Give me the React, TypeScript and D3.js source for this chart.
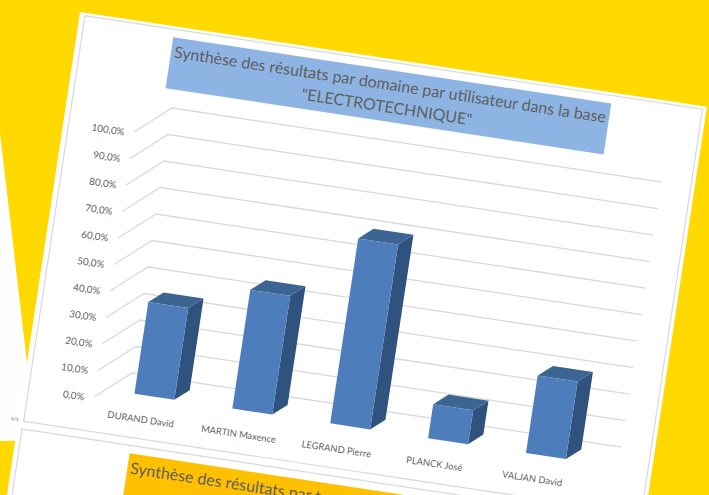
import React from "react";
import * as d3 from "d3";

const users = ["DURAND David", "MARTIN Maxence", "LEGRAND Pierre", "PLANCK José", "VALJAN David"];
const scores = [34.6, 44.8, 69.8, 12.8, 29.2];
const gridTicks = [0, 10, 20, 30, 40, 50, 60, 70, 80, 90, 100];
const titleLines = [
  "Synthèse des résultats par domaine par utilisateur dans la base",
  '"ELECTROTECHNIQUE"',
];
const nextTitle = "Synthèse des résultats par t";

const WIDTH = 709;
const HEIGHT = 495;
const ANGLE = 8.6; // the whole sheet is tilted in the photo

// floor of the 3D plot, in the sheet's own coordinates
const floorY = 378.6;
const depthX = 34;
const depthY = 29.4;

const FONT = "Lato, 'Open Sans', sans-serif";
const TEXT = "#5f5f5f";
const GRID = "#d9d9d9";

const frFormat = d3.formatLocale({
  decimal: ",",
  thousands: " ",
  grouping: [3],
  currency: ["", "€"],
}).format(".1f");

const x = d3.scaleBand<string>().domain(users).range([71.4, 566.4]).paddingInner(0.592).paddingOuter(0.296);
const y = d3.scaleLinear().domain([0, 100]).range([floorY, floorY - 268]);

const poly = d3.line().curve(d3.curveLinearClosed);

const Bar = ({ name, value }: { name: string; value: number }) => {
  // front face sits 30% into the floor depth
  const x0 = (x(name) as number) + depthX * 0.3;
  const x1 = x0 + x.bandwidth();
  const yb = y(0) - depthY * 0.316;
  const yt = y(value) - depthY * 0.316;
  const dx = 13.7;
  const dy = 11.8;
  return (
    <g>
      <path
        d={poly([[x1, yt], [x1 + dx, yt - dy], [x1 + dx, yb - dy], [x1, yb]]) as string}
        fill="#30527f"
      />
      <path
        d={poly([[x0, yt], [x0 + dx, yt - dy], [x1 + dx, yt - dy], [x1, yt]]) as string}
        fill="#3d6592"
      />
      <rect x={x0} y={yt} width={x1 - x0} height={yb - yt} fill="#4d7ebb" />
    </g>
  );
};

export default function App() {
  const left = x.range()[0];
  const right = x.range()[1];
  return (
    <div style={{ position: "absolute", left: 0, top: 0 }}>
      <svg width={WIDTH} height={HEIGHT} style={{ display: "block" }}>
        <rect width={WIDTH} height={HEIGHT} fill="#ffd900" />
        {/* piece of another sheet behind, on the left */}
        <path d={poly([[0, 133], [27, 363], [60, 363], [60, 440], [0, 441]]) as string} fill="#fefefe" />
        <text x={11} y={420} fontSize={6} fontFamily={FONT} fill="#777" transform="rotate(8.6 11 420)">
          s/s
        </text>

        <g transform={`translate(80,12) rotate(${ANGLE})`}>
          {/* sheets */}
          <rect x={0} y={0} width={634} height={620} fill="#fff" />
          <rect x={5.5} y={3} width={624.5} height={410} fill="none" stroke={GRID} strokeWidth={1.2} />
          <rect x={5} y={421} width={625} height={200} fill="none" stroke={GRID} strokeWidth={1.2} />

          {/* title */}
          <rect x={96} y={11} width={443} height={51.5} fill="#8eb4e3" />
          {titleLines.map((line, i) => (
            <text
              key={line}
              x={317.5}
              y={31 + i * 22.5}
              textAnchor="middle"
              fontSize={16}
              fontFamily={FONT}
              fill={TEXT}
            >
              {line}
            </text>
          ))}

          {/* gridlines */}
          {gridTicks.map((t) => (
            <path
              key={t}
              d={
                d3.line()([
                  [left, y(t)],
                  [left + depthX, y(t) - depthY],
                  [right + depthX, y(t) - depthY],
                ]) as string
              }
              fill="none"
              stroke={GRID}
              strokeWidth={1.3}
            />
          ))}
          {gridTicks.map((t) => (
            <text
              key={t}
              x={left - 9.5}
              y={y(t) + 5}
              textAnchor="end"
              fontSize={9.9}
              fontFamily={FONT}
              fill={TEXT}
            >
              {frFormat(t)}%
            </text>
          ))}

          {users.map((u, i) => (
            <Bar key={u} name={u} value={scores[i]} />
          ))}
          {users.map((u) => (
            <text
              key={u}
              x={(x(u) as number) + x.bandwidth() / 2}
              y={397}
              textAnchor="middle"
              fontSize={9.4}
              fontFamily={FONT}
              fill={TEXT}
            >
              {u}
            </text>
          ))}

          {/* next chart, cut by the edge of the picture */}
          <rect x={115} y={429} width={443} height={52} fill="#ffc000" />
          <text x={118} y={449} fontSize={16} fontFamily={FONT} fill={TEXT}>
            {nextTitle}
          </text>
        </g>
      </svg>
    </div>
  );
}
